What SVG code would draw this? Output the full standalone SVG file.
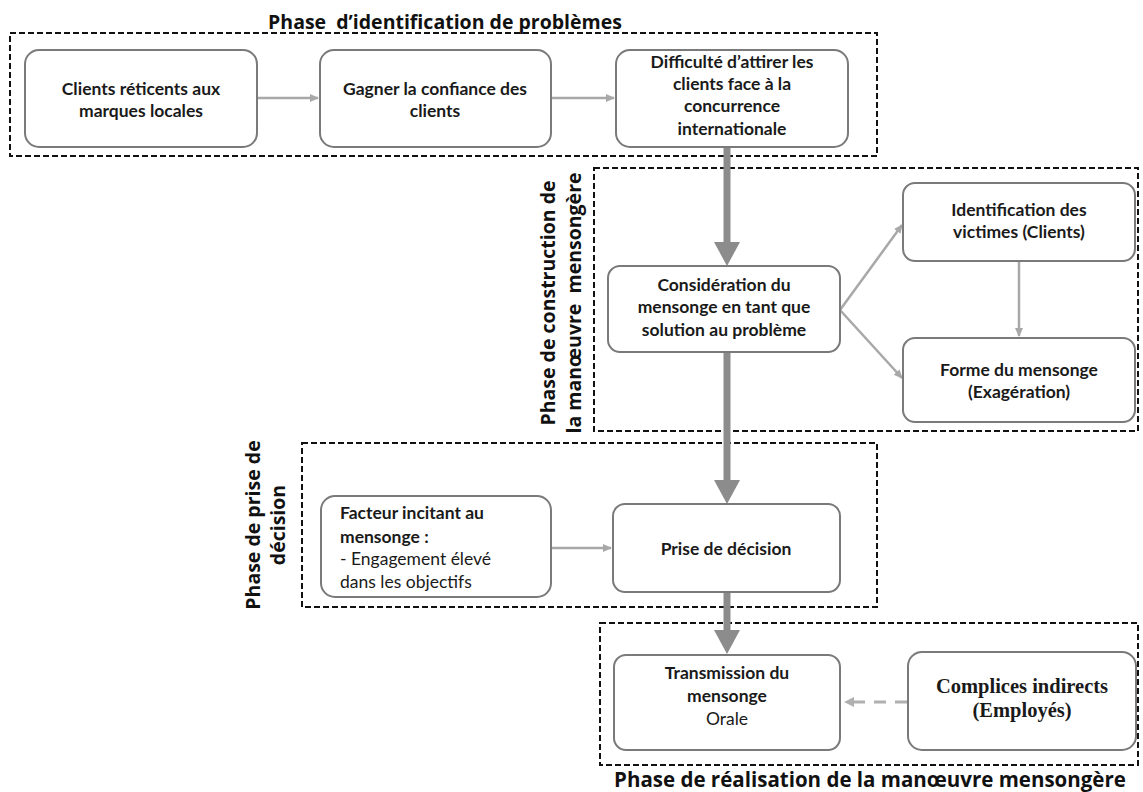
<svg xmlns="http://www.w3.org/2000/svg" width="1143" height="792" viewBox="0 0 1143 792">
<defs>
<style>
.node rect{fill:#ffffff;stroke:#7a7a7a;stroke-width:2}
.nt{font-family:Lato,"Liberation Sans",sans-serif;font-weight:bold;font-size:17.5px;fill:#1a1a1a;text-anchor:middle}
.nl{text-anchor:start}
.nr{font-weight:normal}
.ns{font-family:"Liberation Serif","Times New Roman",serif;font-weight:bold;font-size:20.5px;fill:#1a1a1a;text-anchor:middle}
.phase{fill:none;stroke:#111;stroke-width:2;stroke-dasharray:6 3}
.pt{font-family:"Open Sans","Noto Sans",sans-serif;font-weight:bold;font-size:19.5px;fill:#111;text-anchor:middle;white-space:pre}
.thick{stroke:#8c8c8c;stroke-width:7;fill:none}
.thin{stroke:#a8a8a8;stroke-width:2.5;fill:none}
.dash{stroke:#b0b0b0;stroke-width:3;fill:none;stroke-dasharray:12 9}
</style>
<marker id="ah" markerWidth="10" markerHeight="10" refX="8" refY="5" orient="auto" markerUnits="userSpaceOnUse">
<path d="M0,1 L9,5 L0,9 z" fill="#a8a8a8"/>
</marker>
<marker id="ahd" markerWidth="12" markerHeight="12" refX="9" refY="6" orient="auto" markerUnits="userSpaceOnUse">
<path d="M0,1 L10,6 L0,11 z" fill="#b0b0b0"/>
</marker>
</defs>
<rect x="0" y="0" width="1143" height="792" fill="#ffffff"/>

<g id="phases">
<rect class="phase" x="10" y="33" width="867" height="123"/>
<text class="pt" x="445" y="29" xml:space="preserve">Phase  d’identification de problèmes</text>
<rect class="phase" x="594" y="168" width="544" height="263"/>
<text class="pt" transform="translate(555,303) rotate(-90)">Phase de construction de</text>
<text class="pt" transform="translate(581,303) rotate(-90)" xml:space="preserve">la manœuvre  mensongère</text>
<rect class="phase" x="302" y="443" width="575" height="164"/>
<text class="pt" transform="translate(260,525) rotate(-90)">Phase de prise de</text>
<text class="pt" transform="translate(285,525) rotate(-90)">décision</text>
<rect class="phase" x="600" y="623" width="538" height="142"/>
<text class="pt" x="870" y="787" style="font-size:20.5px">Phase de réalisation de la manœuvre mensongère</text>
</g>

<g id="connectors">
<line class="thin" x1="258" y1="98" x2="318" y2="98" marker-end="url(#ah)"/>
<line class="thin" x1="552" y1="98" x2="614" y2="98" marker-end="url(#ah)"/>
<line class="thick" x1="727" y1="147" x2="727" y2="243"/>
<polygon points="714,242 740,242 727,266" fill="#8c8c8c"/>
<line class="thin" x1="840" y1="310" x2="902" y2="225" marker-end="url(#ah)"/>
<line class="thin" x1="840" y1="310" x2="902" y2="378" marker-end="url(#ah)"/>
<line class="thin" x1="1019" y1="261" x2="1019" y2="336" marker-end="url(#ah)"/>
<line class="thick" x1="727" y1="352" x2="727" y2="481"/>
<polygon points="714,480 740,480 727,504" fill="#8c8c8c"/>
<line class="thin" x1="551" y1="548" x2="611" y2="548" marker-end="url(#ah)"/>
<line class="thick" x1="727" y1="592" x2="727" y2="631"/>
<polygon points="714,630 740,630 727,654" fill="#8c8c8c"/>
<line class="dash" x1="907" y1="702" x2="845" y2="702" marker-end="url(#ahd)"/>
</g>

<g id="n1" class="node">
<rect x="25" y="50" width="232" height="97" rx="14"/>
<text class="nt" x="141" y="95">Clients réticents aux</text>
<text class="nt" x="141" y="117">marques locales</text>
</g>
<g id="n2" class="node">
<rect x="320" y="50" width="231" height="97" rx="14"/>
<text class="nt" x="435" y="95">Gagner la confiance des</text>
<text class="nt" x="435" y="117">clients</text>
</g>
<g id="n3" class="node">
<rect x="616" y="50" width="232" height="97" rx="14"/>
<text class="nt" x="732" y="68">Difficulté d’attirer les</text>
<text class="nt" x="732" y="90">clients face à la</text>
<text class="nt" x="732" y="112">concurrence</text>
<text class="nt" x="732" y="135">internationale</text>
</g>
<g id="n4" class="node">
<rect x="608" y="266" width="232" height="86" rx="12"/>
<text class="nt" x="724" y="291">Considération du</text>
<text class="nt" x="724" y="313">mensonge en tant que</text>
<text class="nt" x="724" y="336">solution au problème</text>
</g>
<g id="n5" class="node">
<rect x="903" y="183" width="232" height="78" rx="12"/>
<text class="nt" x="1019" y="216">Identification des</text>
<text class="nt" x="1019" y="238">victimes (Clients)</text>
</g>
<g id="n6" class="node">
<rect x="903" y="338" width="232" height="84" rx="12"/>
<text class="nt" x="1019" y="376">Forme du mensonge</text>
<text class="nt" x="1019" y="398">(Exagération)</text>
</g>
<g id="n7" class="node">
<rect x="321" y="496" width="230" height="101" rx="14"/>
<text class="nt nl" x="340" y="519">Facteur incitant au</text>
<text class="nt nl" x="340" y="543">mensonge :</text>
<text class="nt nl nr" x="340" y="565">- Engagement élevé</text>
<text class="nt nl nr" x="340" y="588">dans les objectifs</text>
</g>
<g id="n8" class="node">
<rect x="613" y="504" width="227" height="88" rx="12"/>
<text class="nt" x="726" y="555">Prise de décision</text>
</g>
<g id="n9" class="node">
<rect x="614" y="655" width="226" height="95" rx="12"/>
<text class="nt" x="727" y="679">Transmission du</text>
<text class="nt" x="727" y="702">mensonge</text>
<text class="nt nr" x="727" y="725">Orale</text>
</g>
<g id="n10" class="node">
<rect x="908" y="652" width="228" height="98" rx="14"/>
<text class="ns" x="1022" y="693">Complices indirects</text>
<text class="ns" x="1022" y="717">(Employés)</text>
</g>
</svg>
